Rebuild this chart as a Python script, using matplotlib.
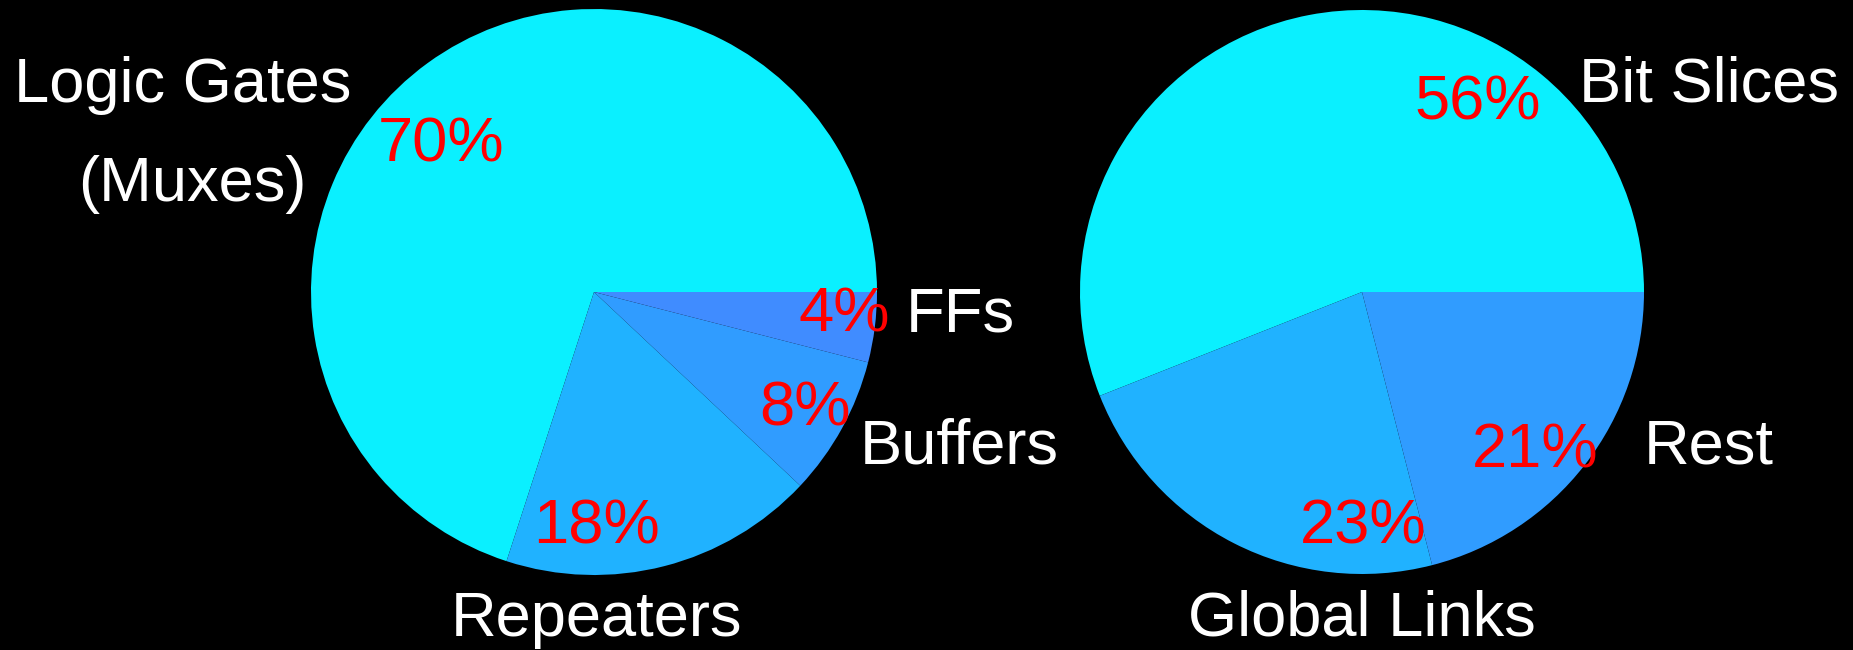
import matplotlib.pyplot as plt

# left pie
left_labels = ["Logic Gates", "Repeaters", "Buffers", "FFs"]
left_values = [70, 18, 8, 4]
left_colors = ["#0AF0FF", "#20B2FF", "#309CFF", "#408CFF"]

# right pie
right_labels = ["Bit Slices", "Global Links", "Rest"]
right_values = [56, 23, 21]
right_colors = ["#0AF0FF", "#20B2FF", "#309CFF"]

plt.rcParams['font.family'] = ['Liberation Sans', 'DejaVu Sans']
fs = 45.5

fig = plt.figure(figsize=(18.53, 6.5), dpi=100, facecolor="black")
ax = fig.add_axes([0, 0, 1, 1])
ax.set_facecolor("black")
ax.set_xlim(0, 1853)
ax.set_ylim(0, 650)
ax.set_aspect("equal")
ax.axis("off")

ax.pie(left_values, colors=left_colors, startangle=0, counterclock=True,
       center=(594, 358), radius=283, wedgeprops=dict(linewidth=0), frame=True)
ax.pie(right_values, colors=right_colors, startangle=0, counterclock=True,
       center=(1362, 358), radius=282, wedgeprops=dict(linewidth=0), frame=True)
ax.set_xlim(0, 1853)
ax.set_ylim(0, 650)
ax.axis("off")

# category names (white) and percentages (red), positions in pixels
left_name_pos = [(183, 548), (596, 14), (959, 186), (960, 319)]
left_pct_pos = [(441, 489), (596, 107), (805, 224), (844, 319)]
right_name_pos = [(1709, 548), (1362, 14), (1709, 186)]
right_pct_pos = [(1478, 531), (1363, 107), (1535, 183)]

for name, (x, y) in zip(left_labels + right_labels, left_name_pos + right_name_pos):
    ax.text(x, y, name, color="white", fontsize=fs, ha="center", va="baseline")
ax.text(192, 449, "(Muxes)", color="white", fontsize=fs, ha="center", va="baseline")

for v, (x, y) in zip(left_values + right_values, left_pct_pos + right_pct_pos):
    ax.text(x, y, f"{v}%", color="red", fontsize=fs, ha="center", va="baseline")

fig.savefig("out.png", dpi=100, facecolor="black")
